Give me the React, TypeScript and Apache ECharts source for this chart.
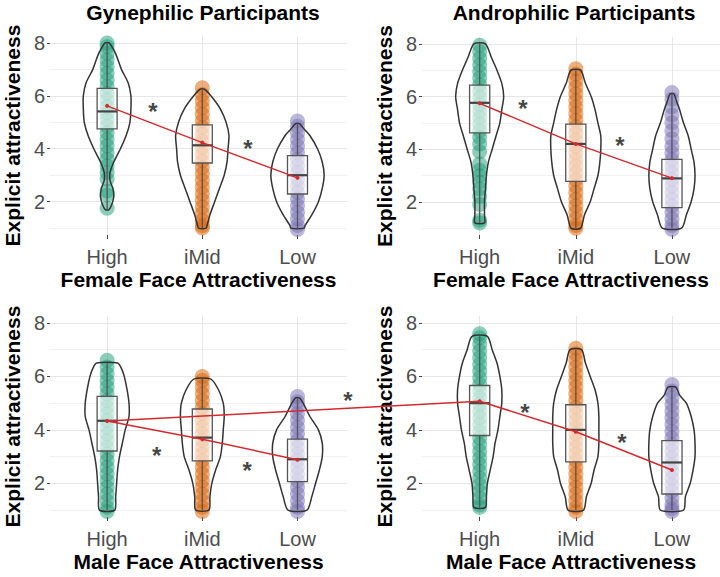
import React, { useEffect, useRef } from 'react';
import * as echarts from 'echarts';

const CATEGORIES = ['High', 'iMid', 'Low'];
const PANEL_TITLES = ['Gynephilic Participants', 'Androphilic Participants'];
const X_TITLES = [
  'Female Face Attractiveness',
  'Female Face Attractiveness',
  'Male Face Attractiveness',
  'Male Face Attractiveness',
];
const Y_TITLE = 'Explicit attractiveness';
const Y_TICKS = [2, 4, 6, 8];
const GRID_VALUES = [1, 2, 3, 4, 5, 6, 7, 8];
const COLORS = ['#1b9e77', '#d95f02', '#7570b3'];

// box stats per category: [min, q1, median, q3, max]
const BOX_P1 = [[1.7, 4.75, 5.41, 6.28, 8.0], [1.0, 3.46, 4.13, 4.9, 6.25], [0.97, 2.29, 3.0, 3.74, 4.95]];
const BOX_P2 = [[1.2, 4.62, 5.76, 6.43, 8.0], [1.0, 2.78, 4.2, 4.95, 7.0], [1.0, 1.78, 2.89, 3.61, 6.1]];
const BOX_P3 = [[1.0, 3.21, 4.34, 5.25, 6.5], [1.0, 2.84, 3.71, 4.78, 5.9], [1.0, 2.06, 2.9, 3.65, 5.2]];
const BOX_P4 = [[1.1, 3.79, 5.0, 5.66, 7.5], [1.0, 2.8, 4.0, 4.94, 7.0], [1.0, 1.6, 2.78, 3.6, 5.6]];

// violin outlines: [rating, half width in category units], top to bottom
const VIOLIN_P1 = [
  [[8.0, 0.02], [7.8, 0.06], [7.5, 0.1], [7.0, 0.15], [6.5, 0.22], [6.0, 0.25], [5.5, 0.25], [5.0, 0.24], [4.5, 0.2], [4.0, 0.14], [3.5, 0.07], [3.1, 0.03], [2.8, 0.03], [2.5, 0.06], [2.2, 0.07], [1.9, 0.05], [1.7, 0.02]],
  [[6.25, 0.02], [6.0, 0.09], [5.5, 0.19], [5.0, 0.25], [4.5, 0.28], [4.0, 0.27], [3.5, 0.26], [3.0, 0.23], [2.5, 0.18], [2.0, 0.13], [1.5, 0.08], [1.1, 0.05], [1.0, 0.04]],
  [[4.95, 0.02], [4.7, 0.08], [4.5, 0.13], [4.0, 0.21], [3.5, 0.26], [3.0, 0.28], [2.5, 0.26], [2.0, 0.22], [1.5, 0.15], [1.1, 0.08], [1.0, 0.07]],
];
const VIOLIN_P2 = [
  [[8.0, 0.06], [7.5, 0.12], [7.0, 0.18], [6.5, 0.23], [6.0, 0.25], [5.5, 0.23], [5.0, 0.21], [4.5, 0.17], [4.0, 0.13], [3.5, 0.09], [3.0, 0.07], [2.5, 0.06], [2.0, 0.05], [1.5, 0.05], [1.2, 0.05]],
  [[7.0, 0.05], [6.5, 0.1], [6.0, 0.16], [5.5, 0.2], [5.0, 0.23], [4.5, 0.26], [4.0, 0.26], [3.5, 0.25], [3.0, 0.23], [2.5, 0.19], [2.0, 0.15], [1.5, 0.09], [1.0, 0.05]],
  [[6.1, 0.02], [5.8, 0.05], [5.5, 0.08], [5.0, 0.12], [4.5, 0.17], [4.0, 0.2], [3.5, 0.23], [3.0, 0.24], [2.5, 0.23], [2.0, 0.2], [1.5, 0.15], [1.0, 0.1]],
];
const VIOLIN_P3 = [
  [[6.5, 0.11], [6.3, 0.15], [6.0, 0.18], [5.5, 0.21], [5.0, 0.23], [4.5, 0.23], [4.0, 0.19], [3.5, 0.16], [3.0, 0.13], [2.5, 0.11], [2.0, 0.1], [1.5, 0.09], [1.0, 0.08]],
  [[5.9, 0.09], [5.5, 0.17], [5.0, 0.22], [4.5, 0.23], [4.0, 0.22], [3.5, 0.21], [3.0, 0.19], [2.5, 0.14], [2.0, 0.1], [1.5, 0.08], [1.0, 0.07]],
  [[5.2, 0.02], [5.0, 0.06], [4.5, 0.13], [4.0, 0.22], [3.5, 0.26], [3.0, 0.26], [2.5, 0.23], [2.0, 0.19], [1.5, 0.15], [1.0, 0.1]],
];
const VIOLIN_P4 = [
  [[7.5, 0.08], [7.0, 0.13], [6.5, 0.18], [6.0, 0.21], [5.5, 0.23], [5.0, 0.23], [4.5, 0.21], [4.0, 0.19], [3.5, 0.16], [3.0, 0.14], [2.5, 0.11], [2.0, 0.08], [1.5, 0.07], [1.1, 0.06]],
  [[7.0, 0.06], [6.5, 0.1], [6.0, 0.15], [5.5, 0.2], [5.0, 0.23], [4.5, 0.24], [4.0, 0.24], [3.5, 0.24], [3.0, 0.23], [2.5, 0.19], [2.0, 0.16], [1.5, 0.11], [1.0, 0.08]],
  [[5.6, 0.04], [5.3, 0.08], [5.0, 0.15], [4.5, 0.2], [4.0, 0.23], [3.5, 0.24], [3.0, 0.24], [2.5, 0.22], [2.0, 0.19], [1.5, 0.14], [1.0, 0.12]],
];

// individual ratings per category
const POINTS_P1 = [
  [1.75, 2.25, 2.4, 2.85, 3.1, 3.35, 3.6, 3.85, 4.1, 4.35, 4.6, 4.85, 5.1, 5.35, 5.6, 5.85, 6.1, 6.35, 6.6, 6.85, 7.1, 7.35, 7.6, 7.85, 8.0],
  [1.0, 1.1, 1.3, 1.55, 1.8, 2.05, 2.3, 2.55, 2.8, 3.05, 3.3, 3.55, 3.8, 4.05, 4.3, 4.55, 4.8, 5.05, 5.3, 5.55, 5.8, 6.05, 6.3],
  [0.95, 1.1, 1.35, 1.6, 1.85, 2.1, 2.35, 2.6, 2.85, 3.1, 3.35, 3.6, 3.85, 4.1, 4.35, 4.6, 4.85, 5.05],
];
const POINTS_P2 = [
  [1.2, 1.3, 1.9, 2.2, 2.5, 2.75, 3.0, 3.2, 3.45, 3.9, 4.2, 4.45, 4.7, 4.95, 5.2, 5.45, 5.7, 5.95, 6.2, 6.45, 6.7, 6.95, 7.2, 7.45, 7.7, 7.95],
  [1.0, 1.1, 1.35, 1.6, 1.85, 2.1, 2.35, 2.6, 2.85, 3.1, 3.35, 3.6, 3.85, 4.1, 4.35, 4.6, 4.85, 5.1, 5.35, 5.6, 5.85, 6.1, 6.35, 6.6, 6.85, 7.05],
  [0.95, 1.1, 1.35, 1.6, 1.85, 2.1, 2.35, 2.6, 2.85, 3.1, 3.35, 3.6, 3.85, 4.1, 4.4, 4.7, 5.0, 5.3, 5.6, 5.9, 6.15],
];
const POINTS_P3 = [
  [0.95, 1.1, 1.35, 1.6, 1.85, 2.1, 2.35, 2.6, 2.85, 3.1, 3.35, 3.6, 3.85, 4.1, 4.35, 4.6, 4.85, 5.1, 5.35, 5.6, 5.85, 6.1, 6.35, 6.6],
  [0.95, 1.1, 1.35, 1.6, 1.85, 2.1, 2.35, 2.6, 2.85, 3.1, 3.35, 3.6, 3.85, 4.1, 4.35, 4.6, 4.85, 5.1, 5.35, 5.6, 5.85, 6.0],
  [0.95, 1.1, 1.35, 1.6, 1.85, 2.1, 2.35, 2.6, 2.85, 3.1, 3.35, 3.6, 3.85, 4.1, 4.35, 4.6, 4.85, 5.05, 5.25],
];
const POINTS_P4 = [
  [1.1, 1.2, 1.45, 1.7, 1.95, 2.2, 2.45, 2.7, 2.95, 3.2, 3.45, 3.7, 3.95, 4.2, 4.45, 4.7, 4.95, 5.2, 5.45, 5.7, 5.95, 6.2, 6.45, 6.7, 6.95, 7.2, 7.45, 7.6],
  [0.95, 1.1, 1.35, 1.6, 1.85, 2.1, 2.35, 2.6, 2.85, 3.1, 3.35, 3.6, 3.85, 4.1, 4.35, 4.6, 4.85, 5.1, 5.35, 5.6, 5.85, 6.1, 6.35, 6.6, 6.85, 7.05],
  [0.95, 1.05, 1.2, 1.45, 1.7, 1.95, 2.2, 2.45, 2.7, 2.95, 3.2, 3.45, 3.7, 3.95, 4.2, 4.45, 4.7, 4.95, 5.2, 5.45, 5.7],
];

// means (red line) per category
const MEANS_P1 = [5.62, 4.23, 2.9];
const MEANS_P2 = [5.74, 4.2, 2.9];
const MEANS_P3 = [4.33, 3.65, 2.88];
const MEANS_P4 = [5.07, 3.93, 2.5];
// cross-panel comparison: High male faces, gynephilic vs androphilic
const CROSS_MEANS = [4.33, 5.07];

// significance stars [x position on category scale, rating]
const STARS_P1 = [[1.48, 5.65], [2.48, 4.25]];
const STARS_P2 = [[1.45, 5.76], [2.46, 4.37]];
const STARS_P3 = [[1.52, 3.27], [2.47, 2.69], [3.53, 5.34]];
const STARS_P4 = [[1.47, 4.89], [2.48, 3.74]];

const PANELS = [
  { box: BOX_P1, violin: VIOLIN_P1, points: POINTS_P1, means: MEANS_P1, stars: STARS_P1 },
  { box: BOX_P2, violin: VIOLIN_P2, points: POINTS_P2, means: MEANS_P2, stars: STARS_P2 },
  { box: BOX_P3, violin: VIOLIN_P3, points: POINTS_P3, means: MEANS_P3, stars: STARS_P3 },
  { box: BOX_P4, violin: VIOLIN_P4, points: POINTS_P4, means: MEANS_P4, stars: STARS_P4 },
];

const FONT = '"Liberation Sans", Arial, sans-serif';

export default function App() {
  const ref = useRef<HTMLDivElement>(null);

  useEffect(() => {
    if (!ref.current) return;
    const chart = echarts.init(ref.current, null, { renderer: 'svg' });

    const grids = [
      { left: 50, top: 36, width: 297, height: 199 },
      { left: 422, top: 37, width: 298, height: 198 },
      { left: 50, top: 316, width: 297, height: 201 },
      { left: 422, top: 316, width: 298, height: 201 },
    ];
    const xMax = [3.52, 3.5, 3.52, 3.5];

    const xAxes = grids.map((_, i) => ({
      type: 'value',
      gridIndex: i,
      min: 0.4,
      max: xMax[i],
      axisLine: { show: false },
      splitLine: { show: false },
      axisTick: { show: true, customValues: [1, 2, 3], length: 4, lineStyle: { color: '#444', width: 1 } },
      axisLabel: {
        customValues: [1, 2, 3],
        formatter: (v: number) => CATEGORIES[Math.round(v) - 1] ?? '',
        color: '#4d4d4d',
        fontSize: 20,
        fontFamily: FONT,
        margin: 12,
      },
      name: X_TITLES[i],
      nameLocation: 'middle',
      nameGap: 34,
      nameTextStyle: { fontSize: 21, fontWeight: 'bold', color: '#000', fontFamily: FONT },
    }));

    const yAxes = grids.map((_, i) => ({
      type: 'value',
      gridIndex: i,
      min: 0.74,
      max: 8.26,
      axisLine: { show: false },
      splitLine: { show: false },
      axisTick: { show: true, customValues: Y_TICKS, length: 3, lineStyle: { color: '#444', width: 1 } },
      axisLabel: {
        customValues: Y_TICKS,
        color: '#4d4d4d',
        fontSize: 20,
        fontFamily: FONT,
        margin: 5,
      },
      name: Y_TITLE,
      nameLocation: 'middle',
      nameGap: 27,
      nameTextStyle: { fontSize: 21, fontWeight: 'bold', color: '#000', fontFamily: FONT },
    }));

    const series: any[] = [];
    PANELS.forEach((panel, p) => {
      // background grid lines
      series.push({
        type: 'line',
        xAxisIndex: p,
        yAxisIndex: p,
        data: [],
        silent: true,
        markLine: {
          silent: true,
          symbol: 'none',
          label: { show: false },
          animation: false,
          data: [
            ...GRID_VALUES.map((v) => ({
              yAxis: v,
              lineStyle: { color: v % 2 === 0 ? '#e6e6e6' : '#f1f1f1', width: 1, type: 'solid' },
            })),
            ...[1, 2, 3].map((v) => ({
              xAxis: v,
              lineStyle: { color: '#e6e6e6', width: 1, type: 'solid' },
            })),
          ],
        },
      });
      // individual ratings
      const pts: any[] = [];
      panel.points.forEach((vals, c) => {
        vals.forEach((v) => pts.push({ value: [c + 1, v], itemStyle: { color: COLORS[c] } }));
      });
      series.push({
        type: 'scatter',
        xAxisIndex: p,
        yAxisIndex: p,
        z: 10,
        symbolSize: 15,
        itemStyle: { opacity: 0.5 },
        data: pts,
        silent: true,
      });
      // violins
      series.push({
        type: 'custom',
        xAxisIndex: p,
        yAxisIndex: p,
        z: 11,
        silent: true,
        data: CATEGORIES.map((_, c) => [c + 1, 4]),
        renderItem: (params: any, api: any) => {
          const c = params.dataIndex;
          const prof = panel.violin[c];
          const cx = c + 1;
          const right = prof.map(([y, w]) => api.coord([cx + w, y]));
          const left = prof.slice().reverse().map(([y, w]) => api.coord([cx - w, y]));
          return {
            type: 'polygon',
            shape: { points: right.concat(left), smooth: 0.25 },
            style: { fill: 'none', stroke: '#333', lineWidth: 1.5 },
          };
        },
      });
      // box plots
      series.push({
        type: 'custom',
        xAxisIndex: p,
        yAxisIndex: p,
        z: 12,
        silent: true,
        data: panel.box.map((b, c) => [c + 1, ...b]),
        renderItem: (params: any, api: any) => {
          const x = api.value(0);
          const mn = api.value(1);
          const q1 = api.value(2);
          const md = api.value(3);
          const q3 = api.value(4);
          const mx = api.value(5);
          const hw = 0.105;
          const tl = api.coord([x - hw, q3]);
          const br = api.coord([x + hw, q1]);
          const top = api.coord([x, mx]);
          const q3p = api.coord([x, q3]);
          const q1p = api.coord([x, q1]);
          const bot = api.coord([x, mn]);
          const ml = api.coord([x - hw, md]);
          const mr = api.coord([x + hw, md]);
          const stroke = '#555';
          return {
            type: 'group',
            children: [
              { type: 'line', shape: { x1: top[0], y1: top[1], x2: q3p[0], y2: q3p[1] }, style: { stroke, lineWidth: 1.3 } },
              { type: 'line', shape: { x1: q1p[0], y1: q1p[1], x2: bot[0], y2: bot[1] }, style: { stroke, lineWidth: 1.3 } },
              {
                type: 'rect',
                shape: { x: tl[0], y: tl[1], width: br[0] - tl[0], height: br[1] - tl[1] },
                style: { fill: 'rgba(255,255,255,0.62)', stroke, lineWidth: 1.3 },
              },
              { type: 'line', shape: { x1: ml[0], y1: ml[1], x2: mr[0], y2: mr[1] }, style: { stroke: '#444', lineWidth: 2.2 } },
            ],
          };
        },
      });
      // means line
      series.push({
        type: 'line',
        xAxisIndex: p,
        yAxisIndex: p,
        z: 13,
        silent: true,
        data: panel.means.map((m, c) => [c + 1, m]),
        symbol: 'circle',
        symbolSize: 4,
        itemStyle: { color: '#d42a2f' },
        lineStyle: { color: '#d42a2f', width: 1.5 },
      });
      // stars
      series.push({
        type: 'scatter',
        xAxisIndex: p,
        yAxisIndex: p,
        z: 14,
        silent: true,
        clip: false,
        symbol: 'circle',
        symbolSize: 1,
        itemStyle: { color: 'rgba(0,0,0,0)' },
        data: panel.stars,
        label: {
          show: true,
          position: 'inside',
          formatter: '*',
          fontSize: 24,
          fontWeight: 'bold',
          color: '#111',
          fontFamily: FONT,
          offset: [0, 6],
        },
      });
    });

    chart.setOption({
      animation: false,
      backgroundColor: '#fff',
      textStyle: { fontFamily: FONT },
      title: [
        {
          text: PANEL_TITLES[0],
          left: 203,
          top: 2,
          textAlign: 'center',
          padding: 0,
          textStyle: { fontSize: 21, fontWeight: 'bold', color: '#000', fontFamily: FONT },
        },
        {
          text: PANEL_TITLES[1],
          left: 574,
          top: 2,
          textAlign: 'center',
          padding: 0,
          textStyle: { fontSize: 21, fontWeight: 'bold', color: '#000', fontFamily: FONT },
        },
      ],
      grid: grids,
      xAxis: xAxes,
      yAxis: yAxes,
      series,
    });

    const a = chart.convertToPixel({ gridIndex: 2 } as any, [1, CROSS_MEANS[0]]) as number[];
    const b = chart.convertToPixel({ gridIndex: 3 } as any, [1, CROSS_MEANS[1]]) as number[];
    if (a && b) {
      chart.setOption({
        graphic: [
          {
            type: 'line',
            z: 100,
            silent: true,
            shape: { x1: a[0], y1: a[1], x2: b[0], y2: b[1] },
            style: { stroke: '#d42a2f', lineWidth: 1.5 },
          },
        ],
      });
    }

    return () => chart.dispose();
  }, []);

  return <div ref={ref} style={{ position: 'fixed', left: 0, top: 0, width: 720, height: 577 }} />;
}
